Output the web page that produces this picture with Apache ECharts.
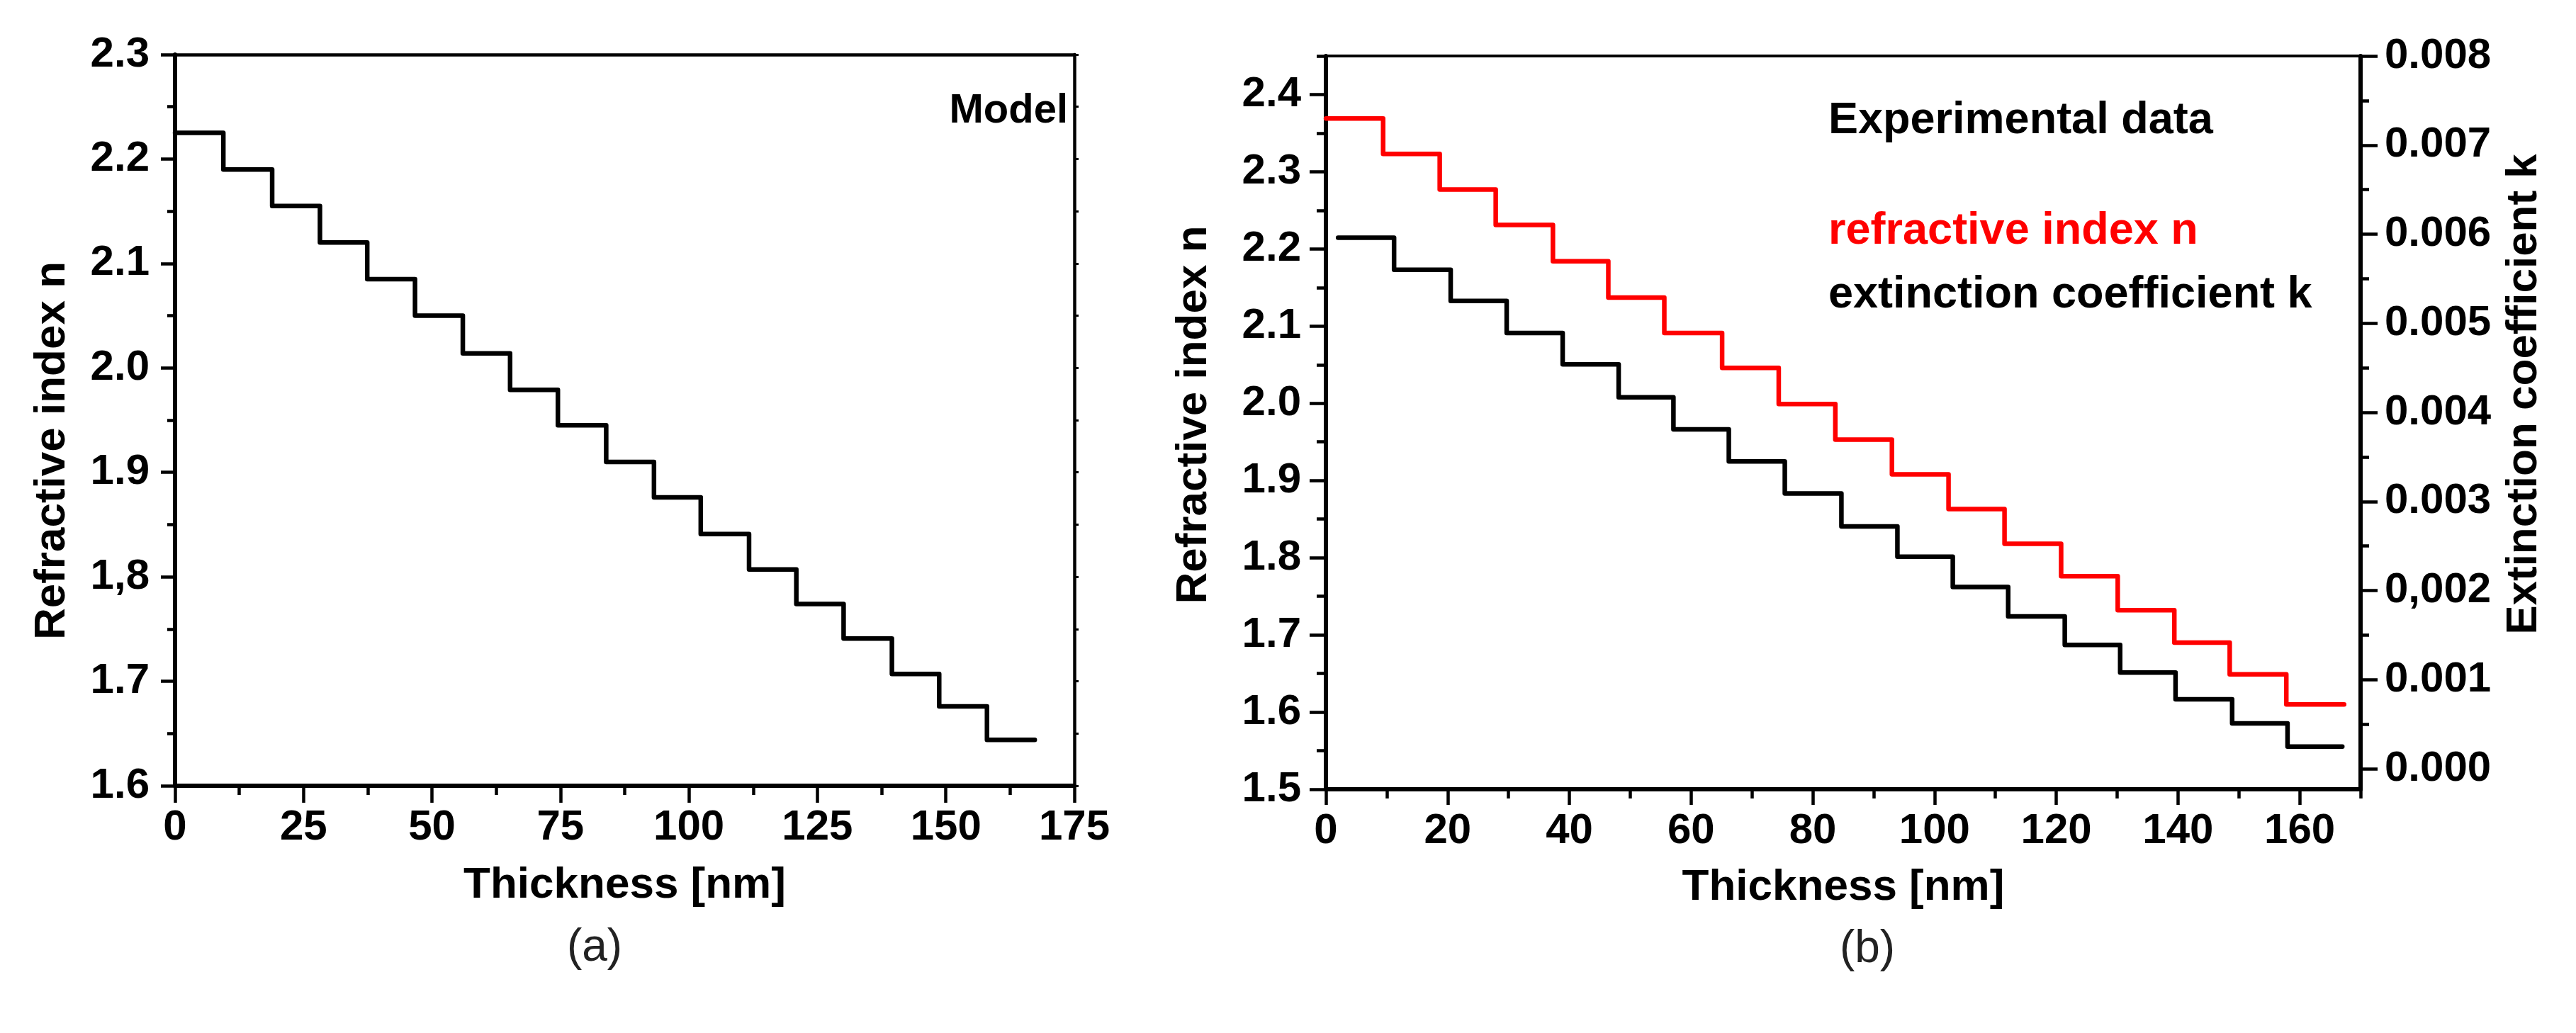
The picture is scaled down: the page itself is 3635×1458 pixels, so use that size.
<!DOCTYPE html>
<html><head><meta charset="utf-8">
<script src="https://cdn.jsdelivr.net/npm/echarts@6/dist/echarts.min.js"></script>
<style>html,body{margin:0;padding:0;background:#fff}#c{width:3635px;height:1458px}</style>
</head><body><div id="c"></div>
<script>
// ---- Panel (a): model ----
const thickA = [0, 9.4, 18.9, 28.2, 37.4, 46.7, 56.0, 65.2, 74.5, 83.9, 93.2, 102.3, 111.7, 120.9, 130.1, 139.5, 148.7, 158.0, 167.3];
const nModel = [2.225, 2.190, 2.155, 2.120, 2.085, 2.050, 2.014, 1.979, 1.945, 1.910, 1.876, 1.841, 1.807, 1.774, 1.741, 1.707, 1.676, 1.644];
// ---- Panel (b): experimental data ----
const thickN = [0, 9.4, 18.7, 27.9, 37.3, 46.4, 55.6, 65.1, 74.4, 83.7, 93.0, 102.3, 111.5, 120.8, 130.1, 139.4, 148.5, 157.8, 167.3];
const nExp = [2.369, 2.323, 2.277, 2.231, 2.184, 2.137, 2.091, 2.046, 1.999, 1.953, 1.908, 1.863, 1.818, 1.776, 1.732, 1.690, 1.649, 1.610];
const thickK = [2.0, 11.2, 20.5, 29.7, 38.9, 48.1, 57.1, 66.2, 75.4, 84.7, 93.9, 103.0, 112.1, 121.4, 130.5, 139.6, 148.9, 158.0, 167.0];
const kExp = [0.00596, 0.00560, 0.00525, 0.00489, 0.00454, 0.00417, 0.00381, 0.00345, 0.00309, 0.00272, 0.00238, 0.00204, 0.00171, 0.00139, 0.00108, 0.00078, 0.00051, 0.00025];
// ---- ticks & labels ----
const yTicksA = [1.6, 1.7, 1.8, 1.9, 2.0, 2.1, 2.2, 2.3];
const yLabelsA = ['1.6', '1.7', '1,8', '1.9', '2.0', '2.1', '2.2', '2.3'];
const xTicksB = [0, 20, 40, 60, 80, 100, 120, 140, 160];
const xMinorB = [10, 30, 50, 70, 90, 110, 130, 150, 170];
const nTicksB = [1.5, 1.6, 1.7, 1.8, 1.9, 2.0, 2.1, 2.2, 2.3, 2.4];
const nLabelsB = ['1.5', '1.6', '1.7', '1.8', '1.9', '2.0', '2.1', '2.2', '2.3', '2.4'];
const nMinorB = [1.55, 1.65, 1.75, 1.85, 1.95, 2.05, 2.15, 2.25, 2.35, 2.45];
const kTicksB = [0, 0.001, 0.002, 0.003, 0.004, 0.005, 0.006, 0.007, 0.008];
const kLabelsB = ['0.000', '0.001', '0,002', '0.003', '0.004', '0.005', '0.006', '0.007', '0.008'];
const kMinorB = [0.0005, 0.0015, 0.0025, 0.0035, 0.0045, 0.0055, 0.0065, 0.0075];

const FONT = 'Liberation Sans, Arial, Helvetica, sans-serif';
function lab(vals, labels) {
  return function (v) {
    for (let i = 0; i < vals.length; i++) if (Math.abs(vals[i] - v) < 1e-7) return labels[i];
    return '';
  };
}
function steps(xs, ys) {
  const d = ys.map((y, i) => [xs[i], y]);
  d.push([xs[ys.length], ys[ys.length - 1]]);
  return d;
}
const blk = '#000';
const tickLab = { color: blk, fontFamily: FONT, fontWeight: 'bold', fontSize: 60 };
const nameSty = { color: blk, fontFamily: FONT, fontWeight: 'bold', fontSize: 62 };
const line = (w) => ({ show: true, onZero: false, lineStyle: { color: blk, width: w } });
const noTick = { show: false };
const noLab = { show: false };
const noSplit = { show: false };
const LW = 6.5;

const chart = echarts.init(document.getElementById('c'));
chart.setOption({
  animation: false,
  backgroundColor: '#fff',
  grid: [
    { left: 247, top: 77, width: 1269, height: 1032 },
    { left: 1871, top: 79, width: 1460, height: 1035 }
  ],
  xAxis: [
    { // 0: panel a bottom
      gridIndex: 0, type: 'value', position: 'bottom', min: 0, max: 175, interval: 25,
      axisLine: line(6), splitLine: noSplit,
      axisTick: { show: true, length: 24, lineStyle: { width: 4.5, color: blk } },
      minorTick: { show: true, splitNumber: 2, length: 13, lineStyle: { width: 4.5, color: blk } },
      axisLabel: Object.assign({ margin: 29 }, tickLab),
      name: 'Thickness [nm]', nameLocation: 'middle', nameGap: 110, nameTextStyle: nameSty
    },
    { // 1: panel a top border
      gridIndex: 0, type: 'value', position: 'top', min: 0, max: 175,
      axisLine: line(4.5), axisTick: noTick, axisLabel: noLab, splitLine: noSplit
    },
    { // 2: panel b bottom
      gridIndex: 1, type: 'value', position: 'bottom', min: 0, max: 170,
      axisLine: line(6), splitLine: noSplit,
      axisTick: { show: true, customValues: xTicksB, length: 22, lineStyle: { width: 4.5, color: blk } },
      axisLabel: Object.assign({ margin: 29, customValues: xTicksB }, tickLab),
      name: 'Thickness [nm]', nameLocation: 'middle', nameGap: 108, nameTextStyle: nameSty
    },
    { // 3: panel b bottom minor ticks
      gridIndex: 1, type: 'value', position: 'bottom', min: 0, max: 170,
      axisLine: { show: false, onZero: false }, splitLine: noSplit, axisLabel: noLab,
      axisTick: { show: true, customValues: xMinorB, length: 13, lineStyle: { width: 4.5, color: blk } }
    },
    { // 4: panel b top border
      gridIndex: 1, type: 'value', position: 'top', min: 0, max: 170,
      axisLine: line(4), axisTick: noTick, axisLabel: noLab, splitLine: noSplit
    }
  ],
  yAxis: [
    { // 0: panel a left
      gridIndex: 0, type: 'value', position: 'left', min: 1.6, max: 2.3, interval: 0.1,
      axisLine: line(6), splitLine: noSplit,
      axisTick: { show: true, length: 20, lineStyle: { width: 4.5, color: blk } },
      minorTick: { show: true, splitNumber: 2, length: 11, lineStyle: { width: 4.5, color: blk } },
      axisLabel: Object.assign({ margin: 36, formatter: lab(yTicksA, yLabelsA) }, tickLab),
      name: 'Refractive index n', nameLocation: 'middle', nameRotate: 90, nameGap: 142,
      nameTextStyle: Object.assign({ padding: [0, 86, 0, 0] }, nameSty)
    },
    { // 1: panel a right border
      gridIndex: 0, type: 'value', position: 'right', min: 1.6, max: 2.3, interval: 0.1,
      axisLine: line(4.5), splitLine: noSplit, axisLabel: noLab,
      axisTick: { show: true, length: 6, lineStyle: { width: 3, color: blk } },
      minorTick: { show: true, splitNumber: 2, length: 6, lineStyle: { width: 3, color: blk } }
    },
    { // 2: panel b left (n)
      gridIndex: 1, type: 'value', position: 'left', min: 1.5, max: 2.45,
      axisLine: line(6), splitLine: noSplit,
      axisTick: { show: true, customValues: nTicksB, length: 23, lineStyle: { width: 4.5, color: blk } },
      axisLabel: Object.assign({ margin: 35, customValues: nTicksB, formatter: lab(nTicksB, nLabelsB) }, tickLab),
      name: 'Refractive index n', nameLocation: 'middle', nameRotate: 90, nameGap: 155,
      nameTextStyle: Object.assign({ padding: [0, 0, 0, 22] }, nameSty)
    },
    { // 3: panel b left minor
      gridIndex: 1, type: 'value', position: 'left', min: 1.5, max: 2.45,
      axisLine: { show: false, onZero: false }, splitLine: noSplit, axisLabel: noLab,
      axisTick: { show: true, customValues: nMinorB, length: 13, lineStyle: { width: 4.5, color: blk } }
    },
    { // 4: panel b right (k)
      gridIndex: 1, type: 'value', position: 'right', min: -0.00023, max: 0.008,
      axisLine: line(6), splitLine: noSplit,
      axisTick: { show: true, customValues: kTicksB, length: 24, lineStyle: { width: 4.5, color: blk } },
      axisLabel: Object.assign({ margin: 34, customValues: kTicksB, formatter: lab(kTicksB, kLabelsB) }, tickLab),
      name: 'Extinction coefficient k', nameLocation: 'middle', nameRotate: 90, nameGap: 200,
      nameTextStyle: Object.assign({ padding: [0, 0, 0, 80] }, nameSty)
    },
    { // 5: panel b right minor
      gridIndex: 1, type: 'value', position: 'right', min: -0.00023, max: 0.008,
      axisLine: { show: false, onZero: false }, splitLine: noSplit, axisLabel: noLab,
      axisTick: { show: true, customValues: kMinorB, length: 12, lineStyle: { width: 4.5, color: blk } }
    }
  ],
  series: [
    {
      name: 'Model', type: 'line', xAxisIndex: 0, yAxisIndex: 0, step: 'end', showSymbol: false, symbol: 'none',
      data: steps(thickA, nModel), lineStyle: { color: blk, width: LW, cap: 'round', join: 'round' }
    },
    {
      name: 'refractive index n', type: 'line', xAxisIndex: 2, yAxisIndex: 2, step: 'end', showSymbol: false, symbol: 'none',
      data: steps(thickN, nExp), lineStyle: { color: '#ff0000', width: LW, cap: 'round', join: 'round' }
    },
    {
      name: 'extinction coefficient k', type: 'line', xAxisIndex: 2, yAxisIndex: 4, step: 'end', showSymbol: false, symbol: 'none',
      data: steps(thickK, kExp), lineStyle: { color: blk, width: LW, cap: 'round', join: 'round' }
    }
  ],
  graphic: [
    { type: 'text', x: 1507, y: 157, style: { text: 'Model', fill: blk, font: 'bold 58px ' + FONT, textAlign: 'right', textVerticalAlign: 'middle' } },
    { type: 'text', x: 2580, y: 171, style: { text: 'Experimental data', fill: blk, font: 'bold 63px ' + FONT, textAlign: 'left', textVerticalAlign: 'middle' } },
    { type: 'text', x: 2580, y: 327, style: { text: 'refractive index n', fill: '#ff0000', font: 'bold 63px ' + FONT, textAlign: 'left', textVerticalAlign: 'middle' } },
    { type: 'text', x: 2580, y: 417, style: { text: 'extinction coefficient k', fill: blk, font: 'bold 63px ' + FONT, textAlign: 'left', textVerticalAlign: 'middle' } },
    { type: 'text', x: 839, y: 1338, style: { text: '(a)', fill: '#222', font: '64px ' + FONT, textAlign: 'center', textVerticalAlign: 'middle' } },
    { type: 'text', x: 2635, y: 1340, style: { text: '(b)', fill: '#222', font: '64px ' + FONT, textAlign: 'center', textVerticalAlign: 'middle' } }
  ]
});
</script>
</body></html>
